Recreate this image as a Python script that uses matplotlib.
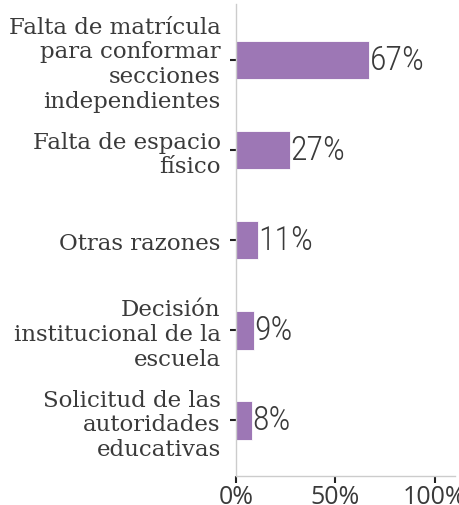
import matplotlib.pyplot as plt
from matplotlib import font_manager

# razones y porcentajes
razones = [
    "Falta de matrícula\npara conformar\nsecciones\nindependientes",
    "Falta de espacio\nfísico",
    "Otras razones",
    "Decisión\ninstitucional de la\nescuela",
    "Solicitud de las\nautoridades\neducativas",
]
porcentajes = [67, 27, 11, 9, 8]
ticks_x = [0, 50, 100]

# fuente angosta para los números si existe
fuentes = font_manager.fontManager.ttflist
disponibles = {f.name for f in fuentes}
angosta = "DejaVu Sans"
for nombre in ["Roboto Condensed", "Liberation Sans Narrow", "DejaVu Sans Condensed", "Open Sans Condensed"]:
    if nombre in disponibles:
        angosta = nombre
        break
peso = "normal"
if any(f.name == angosta and f.weight in (300, "light") for f in fuentes):
    peso = "light"

color_barra = "#9d77b5"
color_texto = "#3a3a3a"

fig = plt.figure(figsize=(4.59, 5.06), dpi=100)
ax = fig.add_axes([0.514, 0.057, 0.477, 0.933])

pos = list(range(len(razones)))
ax.barh(pos, porcentajes, height=0.43, color=color_barra, edgecolor="white", linewidth=0.6)

for p, v in zip(pos, porcentajes):
    ax.text(v + 0.3, p, f"{v}%", va="center", ha="left", fontsize=24.5,
            family=angosta, fontweight=peso, color=color_texto)

ax.set_ylim(len(razones) - 1 + 0.62, -0.62)
ax.set_xlim(0, 110)

ax.set_yticks(pos)
ax.set_yticklabels(razones, fontsize=16.5, family="DejaVu Serif", color=color_texto,
                   linespacing=1.15)
ax.set_xticks(ticks_x)
ax.set_xticklabels([f"{t}%" for t in ticks_x], fontsize=18, family="Open Sans",
                   fontstretch="normal", color=color_texto)

ax.tick_params(axis="y", length=4, width=1.5, color="#222222", pad=7)
ax.tick_params(axis="x", length=5, width=1.5, color="#222222", pad=0.5)

for lado in ["top", "right"]:
    ax.spines[lado].set_visible(False)
for lado in ["left", "bottom"]:
    ax.spines[lado].set_color("#cccccc")
    ax.spines[lado].set_linewidth(1)

fig.savefig("out.png", dpi=100)
